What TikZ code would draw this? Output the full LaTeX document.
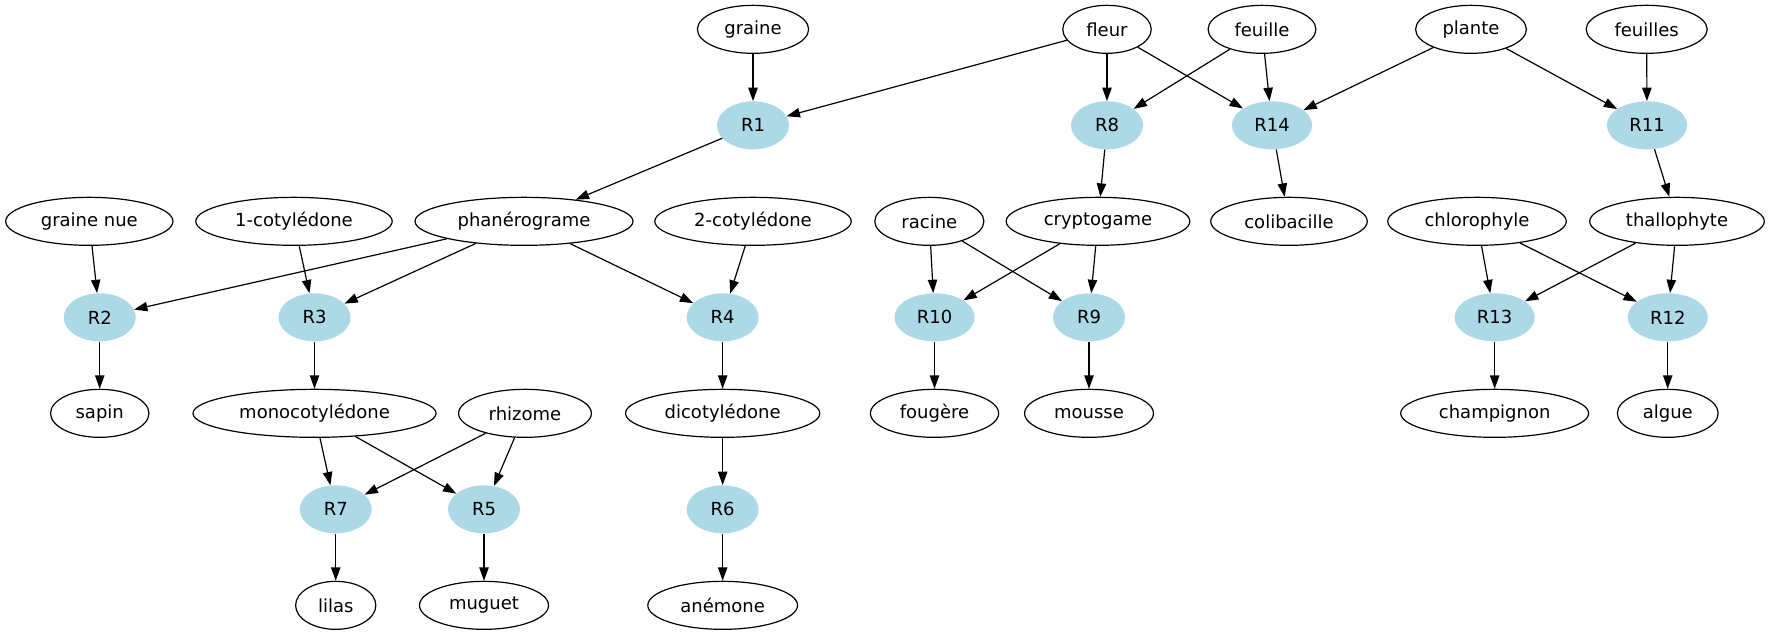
\documentclass[tikz,border=0pt]{standalone}
\usepackage{fontspec}
\setmainfont{DejaVu Sans}
\usetikzlibrary{arrows.meta,shapes.geometric}
\definecolor{lightblue}{HTML}{ADD8E6}
\begin{document}
\begin{tikzpicture}[x=1pt,y=-1pt,
  base/.style={ellipse, inner xsep=8pt, inner ysep=4pt, minimum width=54pt, minimum height=36pt, font=\fontsize{13.5}{16}\selectfont},
  term/.style={base, draw=black, line width=0.9pt},
  rulenode/.style={base, fill=lightblue, draw=none},
  arr/.style={-{Triangle[length=10pt,width=7pt]}, line width=0.9pt}]
\useasboundingbox (0,0) rectangle (1328.25,476.25);
% row 1
\node[term] (graine) at (564.75,22) {graine};
\node[term] (fleur) at (830.25,22) {fleur};
\node[term] (feuille) at (946.5,22) {feuille};
\node[term] (plante) at (1103.25,22) {plante};
\node[term] (feuilles) at (1235,22) {feuilles};
% row 2
\node[rulenode] (R1) at (564.75,94) {R1};
\node[rulenode] (R8) at (830.25,94) {R8};
\node[rulenode] (R14) at (954,94) {R14};
\node[rulenode] (R11) at (1235.25,94) {R11};
% row 3
\node[term] (gnue) at (67,166) {graine nue};
\node[term] (cot1) at (220.5,166) {1-cotylédone};
\node[term] (phan) at (393,166) {phanérograme};
\node[term] (cot2) at (564.75,166) {2-cotylédone};
\node[term] (racine) at (697,166) {racine};
\node[term] (crypto) at (823.5,166) {cryptogame};
\node[term] (coli) at (966.75,166) {colibacille};
\node[term] (chloro) at (1107.75,166) {chlorophyle};
\node[term] (thallo) at (1257.75,166) {thallophyte};
% row 4
\node[rulenode] (R2) at (74.8,238) {R2};
\node[rulenode] (R3) at (235.9,238) {R3};
\node[rulenode] (R4) at (542,238) {R4};
\node[rulenode] (R10) at (700.9,238) {R10};
\node[rulenode] (R9) at (816.75,238) {R9};
\node[rulenode] (R13) at (1121,238) {R13};
\node[rulenode] (R12) at (1250.8,238) {R12};
% row 5
\node[term] (sapin) at (74.8,310) {sapin};
\node[term] (mono) at (235.9,310) {monocotylédone};
\node[term] (rhizome) at (393.75,310) {rhizome};
\node[term] (dicot) at (542,310) {dicotylédone};
\node[term] (fougere) at (700.9,310) {fougère};
\node[term] (mousse) at (816.75,310) {mousse};
\node[term] (champ) at (1121,310) {champignon};
\node[term] (algue) at (1250.8,310) {algue};
% row 6
\node[rulenode] (R7) at (251.8,382) {R7};
\node[rulenode] (R5) at (363,382) {R5};
\node[rulenode] (R6) at (542,382) {R6};
% row 7
\node[term] (lilas) at (251.8,454) {lilas};
\node[term] (muguet) at (363,454) {muguet};
\node[term] (anemone) at (542,454) {anémone};
% edges
\draw[arr] (graine) -- (R1);
\draw[arr] (fleur) -- (R1);
\draw[arr] (fleur) -- (R8);
\draw[arr] (fleur) -- (R14);
\draw[arr] (feuille) -- (R8);
\draw[arr] (feuille) -- (R14);
\draw[arr] (plante) -- (R14);
\draw[arr] (plante) -- (R11);
\draw[arr] (feuilles) -- (R11);
\draw[arr] (R1) -- (phan);
\draw[arr] (R8) -- (crypto);
\draw[arr] (R14) -- (coli);
\draw[arr] (R11) -- (thallo);
\draw[arr] (gnue) -- (R2);
\draw[arr] (phan) -- (R2);
\draw[arr] (cot1) -- (R3);
\draw[arr] (phan) -- (R3);
\draw[arr] (phan) -- (R4);
\draw[arr] (cot2) -- (R4);
\draw[arr] (racine) -- (R10);
\draw[arr] (racine) -- (R9);
\draw[arr] (crypto) -- (R10);
\draw[arr] (crypto) -- (R9);
\draw[arr] (chloro) -- (R13);
\draw[arr] (chloro) -- (R12);
\draw[arr] (thallo) -- (R13);
\draw[arr] (thallo) -- (R12);
\draw[arr] (R2) -- (sapin);
\draw[arr] (R3) -- (mono);
\draw[arr] (R4) -- (dicot);
\draw[arr] (R10) -- (fougere);
\draw[arr] (R9) -- (mousse);
\draw[arr] (R13) -- (champ);
\draw[arr] (R12) -- (algue);
\draw[arr] (mono) -- (R7);
\draw[arr] (mono) -- (R5);
\draw[arr] (rhizome) -- (R7);
\draw[arr] (rhizome) -- (R5);
\draw[arr] (dicot) -- (R6);
\draw[arr] (R7) -- (lilas);
\draw[arr] (R5) -- (muguet);
\draw[arr] (R6) -- (anemone);
\end{tikzpicture}
\end{document}
